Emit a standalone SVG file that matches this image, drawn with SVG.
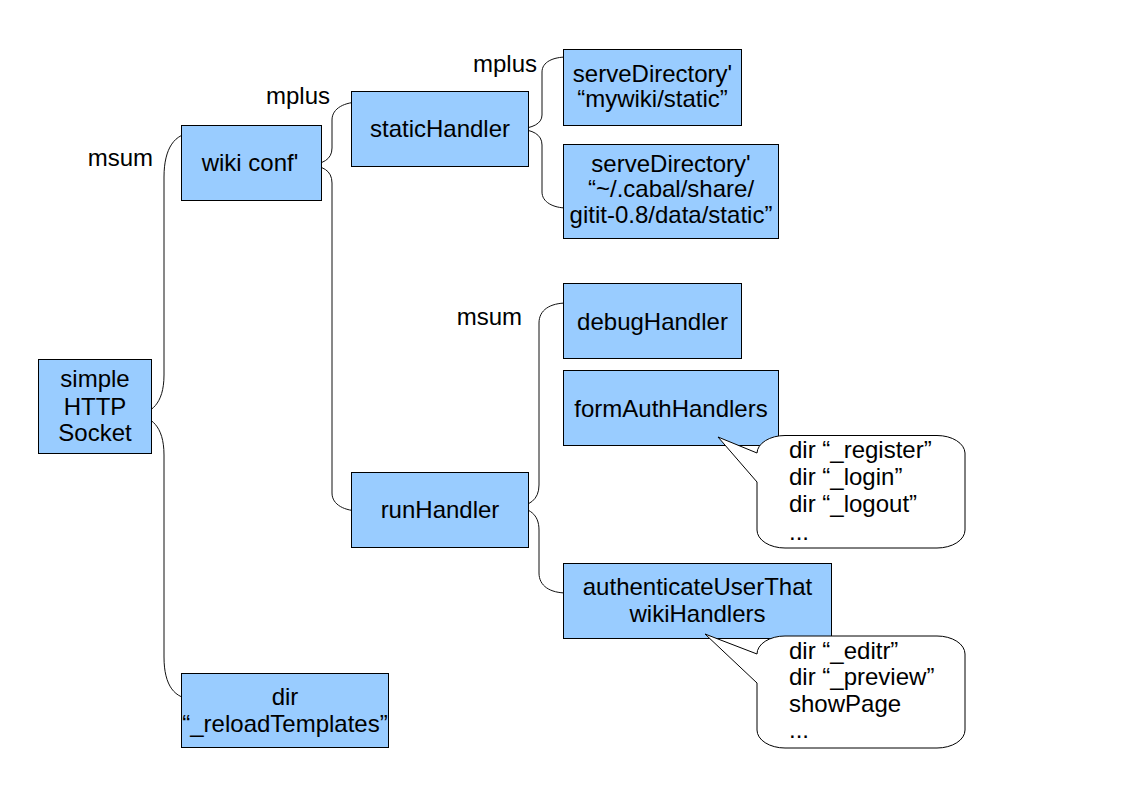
<svg xmlns="http://www.w3.org/2000/svg" width="1123" height="794" viewBox="0 0 1123 794">
<style>
.box{fill:#99ccff;stroke:#000;stroke-width:1}
.call{fill:#fff;stroke:#000;stroke-width:1}
.conn{fill:none;stroke:#111;stroke-width:1}
text{font-family:"Liberation Sans",Arial,sans-serif;font-size:24px;fill:#000}
.c{text-anchor:middle}
.e{text-anchor:end}
</style>
<rect width="1123" height="794" fill="#fff"/>

<g id="connectors">
<path class="conn" d="M137,415 C150,413 164,405 164,375 L164,177 C164,148 175,133 193,133"/>
<path class="conn" d="M137,415 C150,417 164,425 164,455 L164,657 C164,686 175,699 193,699"/>
<path class="conn" d="M305,165 L309,165 C322,164 332,160 332,148 L332,120 C332,108 345,102 360,102"/>
<path class="conn" d="M305,165 L309,165 C322,166 332,170 332,183 L332,493 C332,505 345,511 360,511"/>
<path class="conn" d="M515,129 L519,129 C532,128 542,124 542,115 L542,72 C542,62 553,57 567,57"/>
<path class="conn" d="M515,129 L519,129 C532,130 542,134 542,145 L542,192 C542,202 553,208 567,208"/>
<path class="conn" d="M511,507 L515,507 C529,506 539,500 539,485 L539,323 C539,310 550,303 567,303"/>
<path class="conn" d="M511,507 L515,507 C529,508 539,514 539,530 L539,573 C539,586 550,593 567,593"/>
</g>

<g id="labels">
<text class="e" x="153" y="166">msum</text>
<text class="e" x="330" y="104">mplus</text>
<text class="e" x="537" y="72">mplus</text>
<text class="e" x="522" y="325">msum</text>
</g>

<g id="simpleHTTPSocket">
<rect class="box" x="38.5" y="359.5" width="113" height="94"/>
<text class="c" x="95" y="387">simple</text>
<text class="c" x="95" y="415">HTTP</text>
<text class="c" x="95" y="441">Socket</text>
</g>

<g id="wikiConf">
<rect class="box" x="181.5" y="125.5" width="140" height="75"/>
<text class="c" x="250" y="171">wiki conf'</text>
</g>

<g id="staticHandler">
<rect class="box" x="351.5" y="91.5" width="177" height="75"/>
<text class="c" x="440" y="137">staticHandler</text>
</g>

<g id="serveDirectory1">
<rect class="box" x="563.5" y="49.5" width="178" height="76"/>
<text class="c" x="652.5" y="82">serveDirectory'</text>
<text class="c" x="652.5" y="107">“mywiki/static”</text>
</g>

<g id="serveDirectory2">
<rect class="box" x="563.5" y="144.5" width="215" height="94"/>
<text class="c" x="671" y="172">serveDirectory'</text>
<text class="c" x="671" y="197">“~/.cabal/share/</text>
<text class="c" x="671" y="223">gitit-0.8/data/static”</text>
</g>

<g id="debugHandler">
<rect class="box" x="563.5" y="283.5" width="178" height="75"/>
<text class="c" x="652.5" y="330">debugHandler</text>
</g>

<g id="formAuthHandlers">
<rect class="box" x="563.5" y="370.5" width="215" height="75"/>
<text class="c" x="671" y="417">formAuthHandlers</text>
</g>

<g id="runHandler">
<rect class="box" x="351.5" y="472.5" width="177" height="75"/>
<text class="c" x="440" y="518">runHandler</text>
</g>

<g id="authenticateUserThat">
<rect class="box" x="563.5" y="563.5" width="268" height="75"/>
<text class="c" x="697.5" y="595">authenticateUserThat</text>
<text class="c" x="697.5" y="622">wikiHandlers</text>
</g>

<g id="reloadTemplates">
<rect class="box" x="181.5" y="673.5" width="207" height="74"/>
<text class="c" x="285" y="705">dir</text>
<text class="c" x="285" y="732">“_reloadTemplates”</text>
</g>

<g id="callout1">
<path class="call" d="M785,435.5 L937,435.5 A28,18 0 0 1 965,453 L965,530 A28,18 0 0 1 937,548 L785,548 A28,18 0 0 1 757,530 L757,482 L718,437 L757,453 A28,18 0 0 1 785,435.5 Z"/>
<text x="789" y="458">dir “_register”</text>
<text x="789" y="485">dir “_login”</text>
<text x="789" y="512">dir “_logout”</text>
<text x="789" y="540">...</text>
</g>

<g id="callout2">
<path class="call" d="M785,636 L937,636 A28,18 0 0 1 965,654 L965,730 A28,18 0 0 1 937,748 L785,748 A28,18 0 0 1 757,730 L757,683 L705,634 L757,654 A28,18 0 0 1 785,636 Z"/>
<text x="789" y="659">dir “_editr”</text>
<text x="789" y="685">dir “_preview”</text>
<text x="789" y="712">showPage</text>
<text x="789" y="738">...</text>
</g>
</svg>
